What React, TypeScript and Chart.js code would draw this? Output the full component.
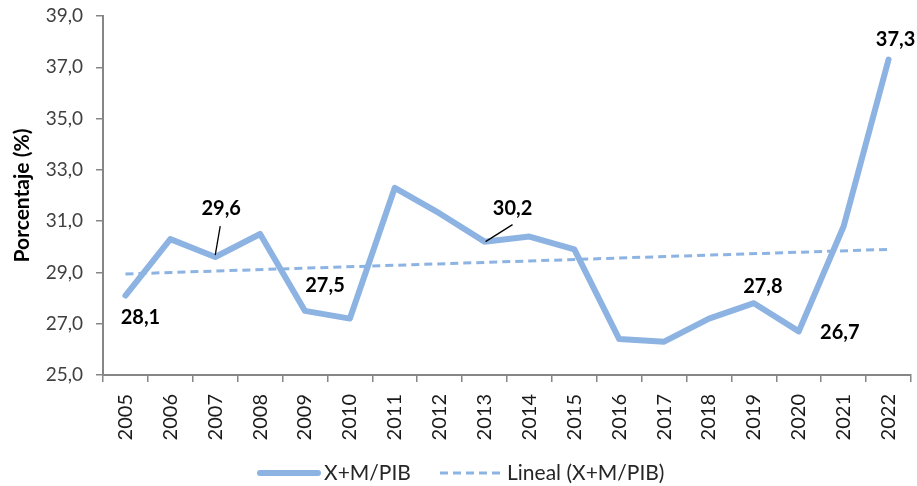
import React, { useEffect, useRef } from "react";
import { Chart, registerables } from "chart.js";

Chart.register(...registerables);

const years = ["2005","2006","2007","2008","2009","2010","2011","2012","2013","2014","2015","2016","2017","2018","2019","2020","2021","2022"];
const ratioValues = [28.1, 30.3, 29.6, 30.5, 27.5, 27.2, 32.3, 31.3, 30.2, 30.4, 29.9, 26.4, 26.3, 27.2, 27.8, 26.7, 30.8, 37.3];
// Linear trendline endpoints (2005 and 2022)
const trendStart = 28.94;
const trendEnd = 29.9;
const yTicks = [25, 27, 29, 31, 33, 35, 37, 39];
const seriesName = "X+M/PIB";
const trendName = "Lineal (X+M/PIB)";
const yTitle = "Porcentaje (%)";

// which points carry a value label, with label offset (dx, dy) and optional leader line
const labelled = [
  { i: 0, dx: 15, dy: 22 },
  { i: 2, dx: 6, dy: -48, leader: [5, -31, 0, -2] },
  { i: 4, dx: 20, dy: -25 },
  { i: 8, dx: 28, dy: -33, leader: [28, -17, 1, 0] },
  { i: 14, dx: 9, dy: -17 },
  { i: 15, dx: 41, dy: 1 },
  { i: 17, dx: 7, dy: -20 },
];

const LINE_COLOR = "#8DB3E2";
const AXIS_COLOR = "#868686";
const FONT = "Lato, 'Open Sans', sans-serif";
const fmt = (v: number) => v.toFixed(1).replace(".", ",");

export default function App() {
  const ref = useRef<HTMLCanvasElement | null>(null);

  useEffect(() => {
    const canvas = ref.current;
    if (!canvas) return;
    const trendData = years.map((_, i) => (i === 0 ? trendStart : i === years.length - 1 ? trendEnd : null));

    const labelPlugin = {
      id: "valueLabels",
      afterDatasetsDraw(chart: any) {
        const ctx = chart.ctx;
        const meta = chart.getDatasetMeta(0);
        ctx.save();
        ctx.font = `bold 20px ${FONT}`;
        ctx.fillStyle = "#000";
        ctx.textAlign = "center";
        ctx.textBaseline = "middle";
        labelled.forEach((l) => {
          const p = meta.data[l.i];
          if (!p) return;
          ctx.fillText(fmt(ratioValues[l.i]), p.x + l.dx, p.y + l.dy);
          if (l.leader) {
            ctx.beginPath();
            ctx.strokeStyle = "#000";
            ctx.lineWidth = 1.3;
            ctx.moveTo(p.x + l.leader[0], p.y + l.leader[1]);
            ctx.lineTo(p.x + l.leader[2], p.y + l.leader[3]);
            ctx.stroke();
          }
        });
        ctx.restore();
      },
    };

    const legendPlugin = {
      id: "customLegend",
      afterDraw(chart: any) {
        const ctx = chart.ctx;
        const y = 473;
        ctx.save();
        ctx.lineCap = "round";
        ctx.strokeStyle = LINE_COLOR;
        ctx.lineWidth = 6;
        ctx.beginPath();
        ctx.moveTo(260, y);
        ctx.lineTo(318, y);
        ctx.stroke();
        ctx.lineCap = "butt";
        ctx.lineWidth = 3;
        ctx.setLineDash([8, 5]);
        ctx.beginPath();
        ctx.moveTo(440, y);
        ctx.lineTo(500, y);
        ctx.stroke();
        ctx.setLineDash([]);
        ctx.font = `21px ${FONT}`;
        ctx.fillStyle = "#262626";
        ctx.textBaseline = "middle";
        ctx.textAlign = "left";
        ctx.fillText(seriesName, 324, y);
        ctx.fillText(trendName, 507, y);
        ctx.restore();
      },
    };

    const chart = new Chart(canvas, {
      type: "line",
      data: {
        labels: years,
        datasets: [
          {
            label: seriesName,
            data: ratioValues,
            borderColor: LINE_COLOR,
            borderWidth: 6,
            pointRadius: 0,
            borderCapStyle: "round",
            borderJoinStyle: "round",
            tension: 0,
            order: 1,
          },
          {
            label: trendName,
            data: trendData,
            borderColor: LINE_COLOR,
            borderWidth: 3,
            borderDash: [8, 5],
            pointRadius: 0,
            spanGaps: true,
            order: 2,
          },
        ],
      },
      options: {
        animation: false,
        responsive: true,
        maintainAspectRatio: false,
        layout: { padding: { top: 16, right: 6, bottom: 46, left: 0 } },
        plugins: { legend: { display: false }, tooltip: { enabled: false } },
        scales: {
          x: {
            type: "category",
            offset: true,
            grid: { display: true, offset: true, drawOnChartArea: false, drawTicks: true, tickLength: 7, color: AXIS_COLOR, lineWidth: 1.5 },
            border: { display: true, color: AXIS_COLOR, width: 2 },
            ticks: { autoSkip: false, minRotation: 90, maxRotation: 90, padding: 12, color: "#1a1a1a", font: { family: FONT, size: 20 } },
            afterFit: (s: any) => { s.height = 65; s.paddingLeft = 0; s.paddingRight = 0; },
          },
          y: {
            min: yTicks[0],
            max: yTicks[yTicks.length - 1],
            afterBuildTicks: (s: any) => { s.ticks = yTicks.map((v) => ({ value: v })); },
            grid: { display: true, drawOnChartArea: false, drawTicks: true, tickLength: 7, color: AXIS_COLOR, lineWidth: 1.5 },
            border: { display: true, color: AXIS_COLOR, width: 2 },
            ticks: { padding: 13, color: "#404040", font: { family: FONT, size: 19 }, callback: (v: any) => fmt(Number(v)) },
            title: { display: true, text: yTitle, color: "#000", font: { family: FONT, size: 21, weight: "bold" }, padding: { top: 10, bottom: 0 } },
            afterFit: (s: any) => { s.width = 103; s.paddingTop = 0; s.paddingBottom = 0; },
          },
        },
      },
      plugins: [labelPlugin, legendPlugin],
    } as any);
    return () => chart.destroy();
  }, []);

  return (
    <div style={{ position: "absolute", left: 0, top: 0, width: 917, height: 486, background: "#fff" }}>
      <canvas ref={ref} />
    </div>
  );
}
